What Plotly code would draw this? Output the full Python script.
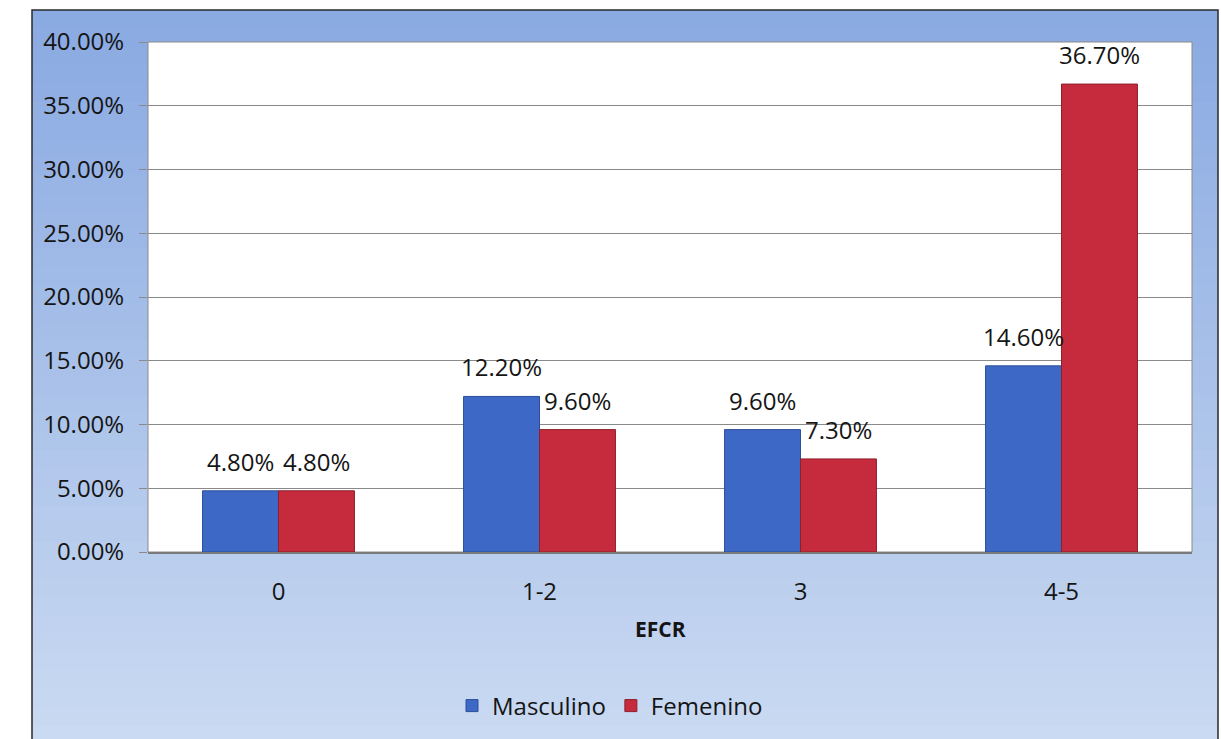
import plotly.graph_objects as go

categories = ["0", "1-2", "3", "4-5"]
masculino = [0.048, 0.122, 0.096, 0.146]
femenino = [0.048, 0.096, 0.073, 0.367]
y_ticks = [0, 0.05, 0.10, 0.15, 0.20, 0.25, 0.30, 0.35, 0.40]

FONT = "Open Sans"
TXT = "#151515"
W, H = 1221, 739
L, R, T, B = 148, 29, 42, 186
pw, ph = W - L - R, H - T - B
BARGAP = 0.418

def px_x(x):
    return (x - L) / pw

def px_y(y):
    return (H - B - y) / ph

fig = go.Figure()
fig.add_trace(go.Bar(
    x=categories, y=masculino, name="Masculino",
    marker=dict(color="#3D68C6", line=dict(color="#2B4F98", width=1)),
))
fig.add_trace(go.Bar(
    x=categories, y=femenino, name="Femenino",
    marker=dict(color="#C62B3D", line=dict(color="#8E1F2B", width=1)),
))

# data labels above each bar (x given as category index on the category axis)
slot_px = pw / len(categories)
offset_px = slot_px * (1 - BARGAP) / 4
annotations = []
for series, sign in ((masculino, -1), (femenino, 1)):
    for idx, v in enumerate(series):
        annotations.append(dict(
            x=idx, y=v, xref="x", yref="y", text="%.2f%%" % (v * 100),
            showarrow=False, xanchor="center", yanchor="bottom",
            xshift=sign * offset_px, yshift=11,
            font=dict(family=FONT, size=24, color=TXT)))
annotations.append(dict(text="<b>EFCR</b>", xref="paper", yref="paper",
                        x=px_x(660), y=px_y(630), xanchor="center", yanchor="middle",
                        showarrow=False, font=dict(family=FONT, size=21, color=TXT)))

# gradient background frame (approximated with bands)
shapes = []
top_c = (138, 170, 226)
bot_c = (202, 218, 242)
y0p, y1p = 10, 745
x0p, x1p = 32, 1218
n = 40
for i in range(n):
    f = i / (n - 1)
    c = tuple(int(top_c[k] + (bot_c[k] - top_c[k]) * f) for k in range(3))
    ya = y0p + (y1p - y0p) * i / n
    yb = y0p + (y1p - y0p) * (i + 1) / n + 1
    shapes.append(dict(type="rect", xref="paper", yref="paper", layer="below",
                       x0=px_x(x0p), x1=px_x(x1p), y0=px_y(yb), y1=px_y(ya),
                       fillcolor="rgb(%d,%d,%d)" % c, line=dict(width=0)))
shapes.append(dict(type="rect", xref="paper", yref="paper", layer="below",
                   x0=px_x(x0p), x1=px_x(x1p), y0=px_y(y1p), y1=px_y(y0p),
                   fillcolor="rgba(0,0,0,0)", line=dict(color="#2a2a2a", width=1.5)))
shapes.append(dict(type="rect", xref="paper", yref="paper", layer="below",
                   x0=0, x1=1, y0=0, y1=1, fillcolor="white",
                   line=dict(color="#8a8a8a", width=1)))

fig.update_layout(
    width=W, height=H,
    margin=dict(l=L, r=R, t=T, b=B),
    paper_bgcolor="white", plot_bgcolor="rgba(0,0,0,0)",
    barmode="group", bargap=BARGAP, bargroupgap=0,
    font=dict(family=FONT, size=24, color=TXT),
    shapes=shapes,
    annotations=annotations,
    showlegend=True,
    legend=dict(orientation="h", x=px_x(610), xanchor="center", y=px_y(706), yanchor="middle",
                font=dict(family=FONT, size=24, color=TXT), bgcolor="rgba(0,0,0,0)",
                itemwidth=30, traceorder="normal"),
)
fig.update_xaxes(type="category", showgrid=False, showline=True, linecolor="#7a7a7a", linewidth=1.5,
                 ticks="", tickfont=dict(family=FONT, size=24), ticklabelstandoff=17)
fig.update_yaxes(range=[0, 0.4], tickvals=y_ticks, tickformat=".2%",
                 showgrid=True, gridcolor="#8a8a8a", gridwidth=1.2, zeroline=False,
                 ticks="outside", ticklen=8, tickcolor="#8a8a8a",
                 tickfont=dict(family=FONT, size=24), ticklabelstandoff=10)

fig.write_html("out.html")
